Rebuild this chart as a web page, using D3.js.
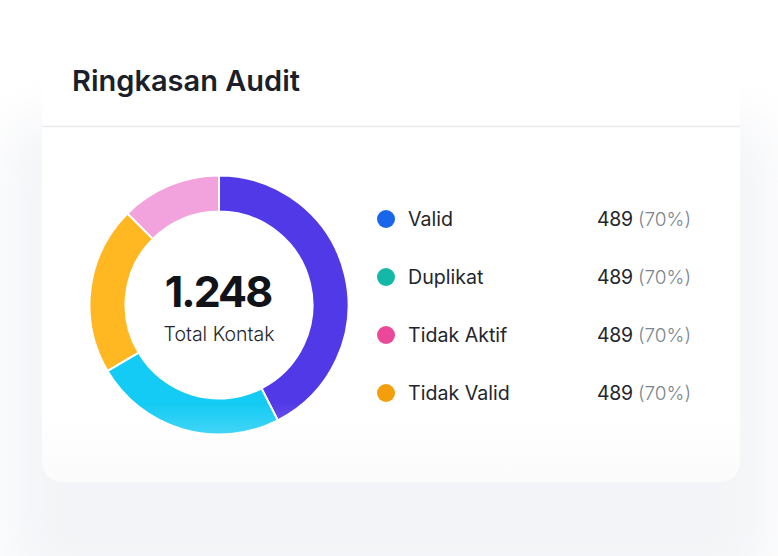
<!DOCTYPE html>
<html lang="en">
<head>
<meta charset="utf-8">
<title>Ringkasan Audit</title>
<script src="https://cdn.jsdelivr.net/npm/d3@7"></script>
<style>
  html, body { margin: 0; padding: 0; background: #fff; overflow: hidden; }
  text { font-family: Inter, "Noto Sans", sans-serif; }
</style>
</head>
<body>
<script>
// donut segments
var sliceNames = ["Ungu", "Biru Muda", "Kuning", "Merah Muda"];
var sliceValues = [42.5, 24, 21, 12.5];
var sliceColors = ["#5239e8", "#13cbf4", "#ffb821", "#f2a2dc"];

// legend rows
var legendLabels = ["Valid", "Duplikat", "Tidak Aktif", "Tidak Valid"];
var legendCounts = ["489", "489", "489", "489"];
var legendPercents = ["(70%)", "(70%)", "(70%)", "(70%)"];
var legendColors = ["#1a66eb", "#14b8a6", "#ec4899", "#f59e0b"];

var title = "Ringkasan Audit";
var totalValue = "1.248";
var totalLabel = "Total Kontak";

var w = 778, h = 556;
var card = {left: 42, right: 740, top: 30, bottom: 482, radius: 20};
var cx = 219, cy = 305, outer = 129.5, inner = 93.5;

var svg = d3.select("body").append("svg")
  .attr("width", w).attr("height", h)
  .style("display", "block");

var defs = svg.append("defs");

var blur = defs.append("filter").attr("id", "blur")
  .attr("x", "-20%").attr("y", "-20%").attr("width", "140%").attr("height", "140%");
blur.append("feGaussianBlur").attr("stdDeviation", 28);

var cardFill = defs.append("linearGradient").attr("id", "cardFill")
  .attr("x1", 0).attr("y1", 0).attr("x2", 0).attr("y2", 1);
cardFill.append("stop").attr("offset", "0%").attr("stop-color", "#ffffff");
cardFill.append("stop").attr("offset", "85%").attr("stop-color", "#ffffff");
cardFill.append("stop").attr("offset", "100%").attr("stop-color", "#fbfbfc");

// white wash over the lower part of the ring, in the donut's own coordinates
var fade = defs.append("linearGradient").attr("id", "fade")
  .attr("gradientUnits", "userSpaceOnUse")
  .attr("x1", 0).attr("y1", 98).attr("x2", 0).attr("y2", outer);
fade.append("stop").attr("offset", "0%").attr("stop-color", "#fff").attr("stop-opacity", 0);
fade.append("stop").attr("offset", "100%").attr("stop-color", "#fff").attr("stop-opacity", 0.2);

svg.append("rect").attr("width", w).attr("height", h).attr("fill", "#fff");

// soft shadow behind the card
svg.append("rect")
  .attr("x", 8).attr("y", 120)
  .attr("width", 762).attr("height", 470)
  .attr("rx", 30)
  .attr("fill", "#f3f4f7")
  .attr("filter", "url(#blur)");

svg.append("rect")
  .attr("x", card.left).attr("y", card.top)
  .attr("width", card.right - card.left).attr("height", card.bottom - card.top)
  .attr("rx", card.radius)
  .attr("fill", "url(#cardFill)");

svg.append("text")
  .attr("x", 72).attr("y", 91)
  .attr("font-size", 29).attr("font-weight", 600)
  .attr("fill", "#1b1f2a")
  .text(title);

svg.append("line")
  .attr("x1", card.left).attr("x2", card.right)
  .attr("y1", 126.5).attr("y2", 126.5)
  .attr("stroke", "#e9eaed").attr("stroke-width", 1.5);

// donut
var pie = d3.pie().sort(null)(sliceValues);
var arc = d3.arc().innerRadius(inner).outerRadius(outer);
var donut = svg.append("g").attr("transform", "translate(" + cx + "," + cy + ")");

donut.selectAll("path.slice")
  .data(pie)
  .enter().append("path")
  .attr("class", "slice")
  .attr("d", arc)
  .attr("fill", function(d, i) { return sliceColors[i]; })
  .attr("stroke", "#fff")
  .attr("stroke-width", 2);

donut.append("path")
  .attr("d", d3.arc().innerRadius(inner).outerRadius(outer).startAngle(0).endAngle(2 * Math.PI)())
  .attr("fill", "url(#fade)");

svg.append("text")
  .attr("x", 218).attr("y", 307)
  .attr("text-anchor", "middle")
  .attr("font-size", 43).attr("font-weight", 700)
  .attr("letter-spacing", -2)
  .attr("fill", "#111318")
  .text(totalValue);

svg.append("text")
  .attr("x", 219).attr("y", 341)
  .attr("text-anchor", "middle")
  .attr("font-size", 19.5).attr("font-weight", 300)
  .attr("fill", "#23262e")
  .text(totalLabel);

// legend
var yScale = d3.scalePoint().domain(legendLabels).range([219, 393]);

var rows = svg.selectAll("g.row")
  .data(legendLabels)
  .enter().append("g")
  .attr("class", "row")
  .attr("transform", function(d) { return "translate(0," + yScale(d) + ")"; });

rows.append("circle")
  .attr("cx", 386).attr("cy", 0).attr("r", 9)
  .attr("fill", function(d, i) { return legendColors[i]; });

rows.append("text")
  .attr("x", 408).attr("y", 7)
  .attr("font-size", 19.6).attr("font-weight", 400)
  .attr("fill", "#23262e")
  .text(function(d) { return d; });

rows.append("text")
  .attr("x", 597).attr("y", 7)
  .attr("font-size", 19.4).attr("font-weight", 400)
  .attr("letter-spacing", -0.2)
  .attr("fill", "#23262e")
  .text(function(d, i) { return legendCounts[i]; });

rows.append("text")
  .attr("x", 691).attr("y", 7)
  .attr("text-anchor", "end")
  .attr("font-size", 19).attr("font-weight", 300)
  .attr("fill", "#7d8490")
  .text(function(d, i) { return legendPercents[i]; });
</script>
</body>
</html>
